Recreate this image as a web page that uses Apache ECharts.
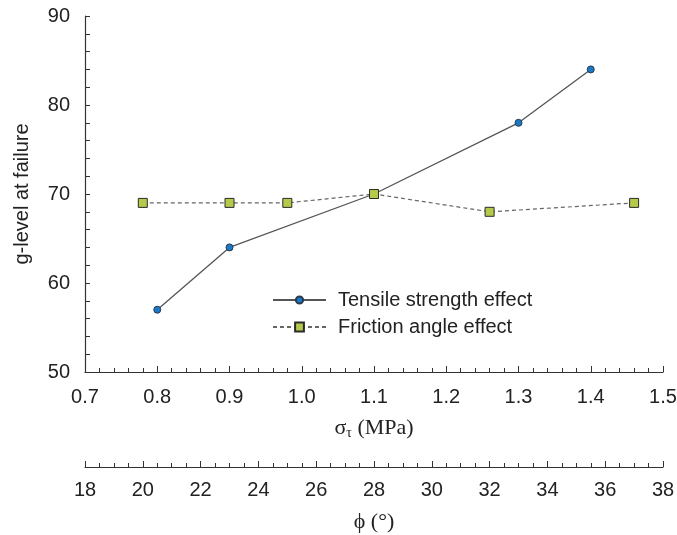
<!DOCTYPE html>
<html>
<head>
<meta charset="utf-8">
<script src="https://cdn.jsdelivr.net/npm/echarts@6/dist/echarts.min.js"></script>
<style>html,body{margin:0;padding:0;background:#fff;}#c{width:677px;height:535px;}</style>
</head>
<body>
<div id="c"></div>
<script>
// Tensile strength effect (x: sigma_t in MPa)
var tensileX = [0.8, 0.9, 1.1, 1.3, 1.4];
var tensileY = [57, 64, 70, 78, 84];
// Friction angle effect (x: phi in degrees)
var frictionX = [20, 23, 25, 28, 32, 37];
var frictionY = [69, 69, 69, 70, 68, 69];
var seriesNames = ['Tensile strength effect', 'Friction angle effect'];
var yTitle = 'g-level at failure';

function pairs(xs, ys) { return xs.map(function (x, i) { return [x, ys[i]]; }); }

var sans = 'Liberation Sans, Arial, sans-serif';
var serif = 'Liberation Serif, Times New Roman, serif';
var textCol = '#222';
var axisCol = '#333';

var chart = echarts.init(document.getElementById('c'), null, {renderer: 'canvas'});
chart.setOption({
  backgroundColor: '#fff',
  animation: false,
  grid: {left: 85, top: 16, right: 14, bottom: 163, containLabel: false, outerBoundsMode: 'none'},
  legend: [
    {
      data: [seriesNames[0]], orient: 'vertical', left: 272, top: 290, padding: 0,
      itemWidth: 53, itemHeight: 9,
      textStyle: {fontFamily: sans, fontSize: 20, color: textCol, padding: [0, 0, 0, 7]}
    },
    {
      data: [seriesNames[1]], orient: 'vertical', left: 272, top: 317, padding: 0,
      itemWidth: 53, itemHeight: 11,
      textStyle: {fontFamily: sans, fontSize: 20, color: textCol, padding: [0, 0, 0, 7]}
    }
  ],
  xAxis: [
    {
      type: 'value', position: 'bottom', min: 0.7, max: 1.5, interval: 0.1,
      axisLine: {show: true, lineStyle: {color: axisCol, width: 1.2}},
      axisTick: {show: true, inside: true, length: 6, lineStyle: {color: axisCol}},
      minorTick: {show: true, splitNumber: 5, length: 4, lineStyle: {color: axisCol}},
      splitLine: {show: false},
      axisLabel: {margin: 15, fontSize: 20, fontFamily: sans, color: textCol,
        formatter: function (v) { return v.toFixed(1); }},
      name: '{a|σ}{b|τ}{a| (MPa)}', nameLocation: 'middle', nameGap: 45,
      nameTextStyle: {
        rich: {
          a: {fontFamily: serif, fontSize: 22, color: textCol},
          b: {fontFamily: serif, fontSize: 14, color: textCol, verticalAlign: 'bottom', padding: [9, 0, 0, 0]}
        }
      }
    },
    {
      type: 'value', position: 'bottom', offset: 95, min: 18, max: 38, interval: 2,
      axisLine: {show: true, lineStyle: {color: axisCol, width: 1.2}},
      axisTick: {show: true, inside: true, length: 6, lineStyle: {color: axisCol}},
      minorTick: {show: true, splitNumber: 4, length: 4, lineStyle: {color: axisCol}},
      splitLine: {show: false},
      axisLabel: {margin: 13, fontSize: 20, fontFamily: sans, color: textCol},
      name: 'ϕ (°)', nameLocation: 'middle', nameGap: 44,
      nameTextStyle: {fontFamily: serif, fontSize: 22, color: textCol}
    }
  ],
  yAxis: {
    type: 'value', min: 50, max: 90, interval: 10,
    axisLine: {show: true, lineStyle: {color: axisCol, width: 1.2}},
    axisTick: {show: true, inside: true, length: 5, lineStyle: {color: axisCol}},
    minorTick: {show: true, splitNumber: 5, length: 5, lineStyle: {color: axisCol}},
    splitLine: {show: false},
    axisLabel: {margin: 15, fontSize: 20, fontFamily: sans, color: textCol},
    name: yTitle, nameLocation: 'middle', nameGap: 53, nameRotate: 90,
    nameTextStyle: {fontFamily: sans, fontSize: 20, color: textCol}
  },
  series: [
    {
      name: seriesNames[0], type: 'line', xAxisIndex: 0, yAxisIndex: 0,
      data: pairs(tensileX, tensileY),
      symbol: 'circle', symbolSize: 7,
      itemStyle: {color: '#1a78c8', borderColor: '#2a3a4a', borderWidth: 1},
      lineStyle: {color: '#555', width: 1.3, type: 'solid'}
    },
    {
      name: seriesNames[1], type: 'line', xAxisIndex: 1, yAxisIndex: 0,
      data: pairs(frictionX, frictionY),
      symbol: 'rect', symbolSize: 9,
      itemStyle: {color: '#b5c94a', borderColor: '#2b2b2b', borderWidth: 1},
      lineStyle: {color: '#666', width: 1.2, type: [4, 3]}
    }
  ]
});
</script>
</body>
</html>
